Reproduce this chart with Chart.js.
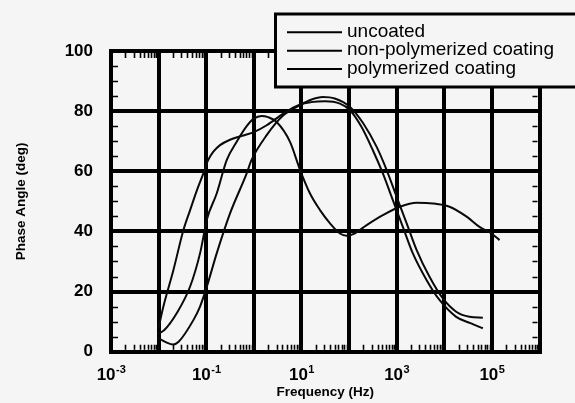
<!DOCTYPE html>
<html><head><meta charset="utf-8">
<script src="https://cdn.jsdelivr.net/npm/chart.js@4"></script>
<style>html,body{margin:0;padding:0;background:#f5f5f5;overflow:hidden}</style>
</head><body>
<canvas id="c" width="575" height="403"></canvas>
<script>
// ---- data (log10 of frequency in Hz, phase angle in deg) ----
const seriesNames = ['uncoated', 'non-polymerized coating', 'polymerized coating'];

const uncoatedLogF = [-2.0, -1.88, -1.62, -1.34, -1.13, -0.98, -0.78, -0.57, -0.36, -0.15, 0.0, 0.16, 0.3, 0.48, 0.76, 0.97, 1.18, 1.39, 1.6, 1.81, 1.95, 2.1, 2.37, 2.71, 3.07, 3.42, 3.76, 4.11, 4.47, 4.74, 4.99, 5.16];
const uncoatedPhase = [6, 7.2, 12.8, 21.6, 32.7, 44.3, 52.6, 63.7, 69.8, 75, 77.5, 78.4, 78, 76.4, 69.8, 60.5, 52.6, 47.1, 42.7, 39.3, 38.6, 39.2, 42.1, 45.4, 48.2, 49.5, 49.3, 48.2, 44.9, 41.5, 39.3, 37.1];

const nonPolyLogF = [-2.0, -1.9, -1.69, -1.48, -1.34, -1.2, -1.06, -0.96, -0.85, -0.71, -0.5, -0.2, 0.0, 0.27, 0.62, 0.97, 1.2, 1.5, 1.81, 2.02, 2.26, 2.5, 2.71, 2.92, 3.13, 3.34, 3.63, 3.9, 4.25, 4.55, 4.81];
const nonPolyPhase = [8, 15, 27.1, 40.4, 47, 53.5, 59.3, 63.7, 66.5, 68.7, 70.5, 72, 73, 75.3, 79.2, 82.2, 83, 83.3, 82.5, 80.3, 74.8, 67, 59.3, 50.4, 41.5, 32.7, 23.8, 17.2, 11.6, 9.5, 7.8];

const polyLogF = [-2.0, -1.85, -1.69, -1.58, -1.27, -1.13, -0.98, -0.78, -0.5, -0.15, -0.05, 0.27, 0.62, 0.97, 1.2, 1.45, 1.7, 2.02, 2.3, 2.58, 2.79, 3.0, 3.21, 3.42, 3.69, 3.97, 4.25, 4.53, 4.81];
const polyPhase = [4.5, 3.2, 2.4, 3.3, 10.5, 15, 22, 32.7, 46, 59.3, 63.7, 72, 78.6, 82, 83.8, 84.7, 84.2, 81.4, 75.9, 68.1, 60.4, 51.5, 42.7, 33.8, 24.9, 17.7, 13.3, 11.6, 11.3];

const yTickValues = [0, 20, 40, 60, 80, 100];
const xGridExponents = [-3, -2, -1, 0, 1, 2, 3, 4, 5, 6];
const xTickBase = '10';
const xTickExponents = ['-3', '-1', '1', '3', '5'];
const xTitle = 'Frequency (Hz)';
const yTitle = 'Phase Angle (deg)';

// ---- build ----
const BG = '#f5f5f5';
const INK = '#000000';
function toPoints(logF, phase) { return logF.map((e, i) => ({ x: Math.pow(10, e), y: phase[i] })); }

const lineStyle = { borderColor: '#0a0a0a', borderWidth: 2, pointRadius: 0, fill: false, cubicInterpolationMode: 'monotone' };

const bgPlugin = {
  id: 'bg',
  beforeDraw(chart) {
    const ctx = chart.ctx;
    ctx.save(); ctx.fillStyle = BG; ctx.fillRect(0, 0, chart.width, chart.height); ctx.restore();
  }
};

const minorTicks = {
  id: 'minorTicks',
  beforeDatasetsDraw(chart) {
    const { ctx, chartArea: a, scales: { x, y } } = chart;
    ctx.save();
    ctx.strokeStyle = INK; ctx.lineWidth = 1.6;
    ctx.beginPath();
    for (let d = -3; d < 6; d++) {
      for (let m = 2; m <= 9; m++) {
        const px = Math.round(x.getPixelForValue(m * Math.pow(10, d))) + 0.5;
        ctx.moveTo(px, a.bottom - 2); ctx.lineTo(px, a.bottom - 7);
        ctx.moveTo(px, a.top + 2); ctx.lineTo(px, a.top + 7);
      }
    }
    for (let v = 5; v < 100; v += 5) {
      if (v % 20 === 0) continue;
      const py = Math.round(y.getPixelForValue(v)) + 0.5;
      ctx.moveTo(a.left + 2, py); ctx.lineTo(a.left + 7, py);
      ctx.moveTo(a.right - 2, py); ctx.lineTo(a.right - 7, py);
    }
    ctx.stroke();
    ctx.restore();
  },
  afterDraw(chart) {
    const { ctx, chartArea: a, scales: { x } } = chart;
    // x tick labels 10^n
    ctx.save();
    ctx.fillStyle = INK;
    ctx.textBaseline = 'alphabetic';
    xTickExponents.forEach(e => {
      const px = x.getPixelForValue(Math.pow(10, Number(e)));
      ctx.font = 'bold 17px "Liberation Sans", Arial, sans-serif';
      const wb = ctx.measureText(xTickBase).width;
      ctx.font = 'bold 11px "Liberation Sans", Arial, sans-serif';
      const we = ctx.measureText(e).width;
      const start = px - (wb + we) / 2;
      ctx.font = 'bold 17px "Liberation Sans", Arial, sans-serif';
      ctx.fillText(xTickBase, start, 380);
      ctx.font = 'bold 11px "Liberation Sans", Arial, sans-serif';
      ctx.fillText(e, start + wb + 0.5, 372.5);
    });
    ctx.restore();

    // legend box
    ctx.save();
    ctx.fillStyle = BG;
    ctx.fillRect(275, 14, 320, 73);
    ctx.strokeStyle = INK; ctx.lineWidth = 3;
    ctx.strokeRect(275.5, 14, 320, 73);
    ctx.font = '19px "Liberation Sans", Arial, sans-serif';
    ctx.textBaseline = 'middle';
    ctx.fillStyle = INK;
    chart.data.datasets.forEach((ds, i) => {
      const yy = 32.3 + i * 18.4;
      ctx.beginPath();
      ctx.lineWidth = 2;
      ctx.moveTo(287, yy); ctx.lineTo(342, yy);
      ctx.stroke();
      ctx.fillText(ds.label, 347, yy - 0.5);
    });
    ctx.restore();
  }
};

new Chart(document.getElementById('c'), {
  type: 'line',
  data: {
    datasets: [
      Object.assign({ label: seriesNames[0], data: toPoints(uncoatedLogF, uncoatedPhase) }, lineStyle),
      Object.assign({ label: seriesNames[1], data: toPoints(nonPolyLogF, nonPolyPhase) }, lineStyle),
      Object.assign({ label: seriesNames[2], data: toPoints(polyLogF, polyPhase) }, lineStyle)
    ]
  },
  options: {
    responsive: false,
    animation: false,
    devicePixelRatio: 1,
    layout: { padding: { top: 51, right: 35.5, left: 0, bottom: 0 } },
    plugins: { legend: { display: false }, tooltip: { enabled: false } },
    scales: {
      x: {
        type: 'logarithmic',
        min: 1e-3, max: 1e6,
        afterBuildTicks(s) { s.ticks = xGridExponents.map(e => ({ value: Math.pow(10, e) })); },
        afterFit(s) { s.height = 51.3; },
        ticks: { display: false },
        grid: { color: INK, lineWidth: 4, drawTicks: false },
        border: { color: INK, width: 4 },
        title: { display: true, text: xTitle, color: INK, font: { family: '"Liberation Sans", Arial, sans-serif', size: 13.5, weight: 'bold' }, padding: { top: 0, bottom: 3 } }
      },
      y: {
        min: 0, max: 100,
        afterBuildTicks(s) { s.ticks = yTickValues.map(v => ({ value: v })); },
        afterFit(s) { s.width = 111; },
        ticks: { color: INK, padding: 18, font: { family: '"Liberation Sans", Arial, sans-serif', size: 17, weight: 'bold' } },
        grid: { color: INK, lineWidth: 4, drawTicks: false },
        border: { color: INK, width: 4 },
        title: { display: true, text: yTitle, color: INK, font: { family: '"Liberation Sans", Arial, sans-serif', size: 13.5, weight: 'bold' }, padding: { top: 13.4, bottom: 0 } }
      }
    }
  },
  plugins: [bgPlugin, minorTicks]
});
</script>
</body></html>
